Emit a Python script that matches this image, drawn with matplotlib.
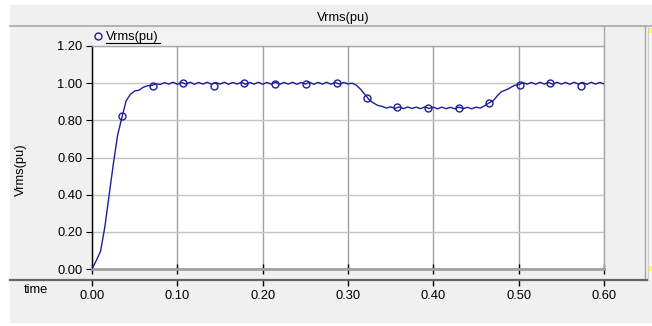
import numpy as np
import matplotlib
matplotlib.use("Agg")
import matplotlib.pyplot as plt
from matplotlib.patches import Rectangle
from matplotlib.lines import Line2D

plt.rcParams['font.family'] = ['Liberation Sans', 'DejaVu Sans']

# RMS voltage (pu), sampled every 5 ms from 0 to 0.6 s
time = np.linspace(0.0, 0.6, 121)
vrms = [
    0.000, 0.045, 0.095, 0.225, 0.395, 0.565, 0.720, 0.815, 0.905, 0.940,
    0.958, 0.962, 0.978, 0.986, 0.988, 0.996, 0.993, 1.003, 0.995, 1.005,
    0.994, 1.004, 0.995, 1.005, 0.994, 1.004, 0.995, 1.005, 0.994, 1.004,
    0.995, 1.005, 0.994, 1.004, 0.995, 1.005, 0.994, 1.004, 0.995, 1.005,
    0.994, 1.004, 0.995, 1.005, 0.994, 1.004, 0.995, 1.005, 0.994, 1.004,
    0.995, 1.005, 0.994, 1.004, 0.995, 1.005, 0.994, 1.004, 0.995, 1.004,
    0.996, 1.000, 0.988, 0.966, 0.938, 0.910, 0.893, 0.880, 0.875, 0.866,
    0.873, 0.864, 0.872, 0.863, 0.872, 0.864, 0.871, 0.863, 0.872, 0.864,
    0.871, 0.862, 0.871, 0.863, 0.870, 0.862, 0.871, 0.863, 0.870, 0.862,
    0.871, 0.866, 0.878, 0.893, 0.905, 0.932, 0.955, 0.963, 0.975, 0.988,
    0.992, 1.003, 0.995, 1.004, 0.994, 1.005, 0.995, 1.004, 0.994, 1.005,
    0.995, 1.004, 0.994, 1.005, 0.995, 1.004, 0.994, 1.005, 0.995, 1.004,
    0.996,
]

# symbol markers along the trace
marker_t = [0.0355, 0.0711, 0.107, 0.143, 0.1785, 0.2145, 0.251, 0.2868,
            0.3227, 0.358, 0.394, 0.430, 0.4657, 0.501, 0.537, 0.573]
marker_v = [0.823, 0.987, 1.001, 0.987, 1.001, 0.997, 0.994, 1.003,
            0.922, 0.874, 0.865, 0.865, 0.895, 0.990, 1.003, 0.985]

x_ticks = [0.0, 0.1, 0.2, 0.3, 0.4, 0.5, 0.6]
y_ticks = [0.0, 0.2, 0.4, 0.6, 0.8, 1.0, 1.2]

W, H = 652, 326
trace = '#1f1f99'
fs = 9.3


def fx(x):
    return x / W


def fy(y):
    return 1 - y / H


def box(x0, y0, x1, y1, **kw):
    fig.add_artist(Rectangle((fx(x0), fy(y1)), (x1 - x0) / W, (y1 - y0) / H,
                             transform=fig.transFigure, **kw))


def hline(x0, x1, y, **kw):
    fig.add_artist(Line2D([fx(x0), fx(x1)], [fy(y), fy(y)], transform=fig.transFigure, **kw))


def vline(x, y0, y1, **kw):
    fig.add_artist(Line2D([fx(x), fx(x)], [fy(y0), fy(y1)], transform=fig.transFigure, **kw))


fig = plt.figure(figsize=(W / 100, H / 100), dpi=100, facecolor='white')

# panel background, title bar, legend strip, side bar
box(10, 5, 652, 323, facecolor='#f0f0f0', edgecolor='none', zorder=-3)
box(92, 31, 604, 46, facecolor='#f3f3f3', edgecolor='none', zorder=-2)
box(647, 26, 652, 280, facecolor='#f7f7f7', edgecolor='none', zorder=-2)
box(648, 28, 652, 33, facecolor='#ffff40', edgecolor='none', zorder=-1)
box(648, 266, 652, 271, facecolor='#ffff40', edgecolor='none', zorder=-1)
hline(10, 652, 26, color='#a8a8a8', lw=1.2)
vline(604, 26, 46, color='#a8a8a8', lw=1)
vline(645, 26, 280, color='#a8a8a8', lw=1)
vline(647.5, 26, 280, color='#d0d0d0', lw=1)
hline(10, 647, 280, color='#666666', lw=1.6)

fig.text(fx(343), fy(18), 'Vrms(pu)', ha='center', va='center', fontsize=fs)

# legend entry
fig.add_artist(Line2D([fx(98.5)], [fy(36)], marker='o', linestyle='none', mfc='none',
                      mec=trace, ms=5, mew=1, transform=fig.transFigure))
fig.text(fx(106), fy(37), 'Vrms(pu)', ha='left', va='center', fontsize=fs)
hline(106, 159.5, 43.3, color='black', lw=0.8)

# main plot
ax = fig.add_axes([fx(92), fy(269), 512 / W, 223 / H])
ax.set_facecolor('white')
ax.plot(time, vrms, color=trace, lw=1.0, zorder=3)
ax.plot(marker_t, marker_v, 'o', mfc='none', mec=trace, ms=5, mew=1, zorder=4)
ax.set_xlim(0, 0.6)
ax.set_ylim(0, 1.2)
ax.set_xticks(x_ticks)
ax.set_yticks(y_ticks)
ax.set_yticklabels(['%.2f' % v for v in y_ticks], fontsize=fs)
ax.xaxis.grid(True, color='#a0a0a0', lw=1)
ax.yaxis.grid(True, color='#c4c4c4', lw=1)
ax.tick_params(axis='x', direction='inout', length=7, width=1, color='black', labelbottom=False)
ax.tick_params(axis='y', direction='out', length=4.3, width=0.8, color='black', pad=2.5)
ax.spines['left'].set_color('black')
ax.spines['left'].set_linewidth(1)
ax.spines['bottom'].set_color('#a0a0a0')
ax.spines['bottom'].set_linewidth(2)
for s in ('top', 'right'):
    ax.spines[s].set_color('#a8a8a8')
    ax.spines[s].set_linewidth(1)

fig.text(21 / W, fy(170), 'Vrms(pu)', rotation=90, ha='center', va='center', fontsize=fs)

# time axis below the plot
tax = fig.add_axes([fx(92), fy(280), 512 / W, 1e-4])
tax.set_facecolor('none')
tax.set_xlim(0, 0.6)
tax.set_xticks(x_ticks)
tax.set_xticklabels(['%.2f' % v for v in x_ticks], fontsize=fs)
tax.set_yticks([])
tax.tick_params(axis='x', direction='out', length=4, width=1, color='black', pad=3)
for s in tax.spines.values():
    s.set_visible(False)

fig.text(fx(36), fy(290), 'time', ha='center', va='center', fontsize=fs)

fig.savefig('out.png', dpi=100)
